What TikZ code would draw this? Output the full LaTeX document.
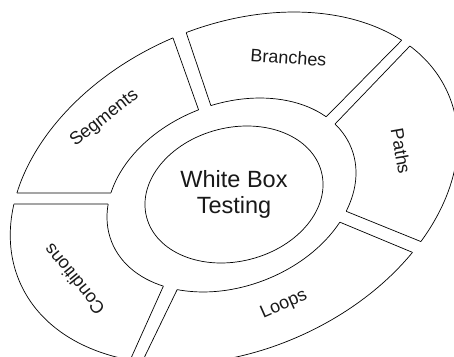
\documentclass[tikz,border=0pt]{standalone}
\usepackage{fontspec}
\setmainfont{Liberation Sans}
\usetikzlibrary{intersections,calc}
\newcommand\mygap[5]{%
  \path[name path=#1a] ($#2!-0.5!#3$) -- ($#2!1.5!#3$);
  \path[name path=#1b] ($#4!-0.5!#5$) -- ($#4!1.5!#5$);
  \path[name intersections={of=#1a and mid, by=#1ai}];
  \path[name intersections={of=#1a and outer, by=#1ao}];
  \path[name intersections={of=#1b and mid, by=#1bi}];
  \path[name intersections={of=#1b and outer, by=#1bo}];
  \fill[white] ($(#1ai)!-3pt!(#1ao)$) -- ($(#1ao)!-3pt!(#1ai)$) -- ($(#1bo)!-3pt!(#1bi)$) -- ($(#1bi)!-3pt!(#1bo)$) -- cycle;
  \draw[ringline] (#1ai) -- (#1ao);
  \draw[ringline] (#1bi) -- (#1bo);
}
\begin{document}
\begin{tikzpicture}[x=1pt,y=1pt,
  ringline/.style={draw=black, line width=0.7pt},
  seglabel/.style={font=\fontsize{18}{20}\selectfont, inner sep=0pt, text=black!90},
  centerlabel/.style={font=\fontsize{23.5}{26}\selectfont, align=center, inner sep=0pt, text=black!90}]
\useasboundingbox (0,0) rectangle (454,356);
\clip (0,0) rectangle (454,356);
\draw[ringline, name path=outer, rotate around={24:(234,168)}] (234,168) ellipse [x radius=234, y radius=162];
\draw[ringline, name path=mid, rotate around={21.1:(231.5,161)}] (231.5,161) ellipse [x radius=128.7, y radius=91.3];
% gaps: inner point first, outer point second
\mygap{ga}{(199,245)}{(173,318)}{(211,250)}{(186,324)}
\mygap{gb}{(326,239)}{(399,313)}{(335,232)}{(407,307)}
\mygap{gc}{(343,146)}{(422,114)}{(337,135)}{(414,103)}
\mygap{gd}{(163,69)}{(132,0)}{(177,66)}{(145,0)}
\mygap{ge}{(112,163)}{(16,163)}{(110,152)}{(12,152)}
\draw[ringline, rotate around={14.4:(234,161.5)}] (234,161.5) ellipse [x radius=90.3, y radius=66.8];
\node[centerlabel] (wbt) at (234,162) {White Box\\Testing};
\node[seglabel, rotate=-4] (branches) at (288.5,298.5) {Branches};
\node[seglabel, rotate=38] (segments) at (104.5,237.5) {Segments};
\node[seglabel, rotate=-80] (paths) at (401,205) {Paths};
\node[seglabel, rotate=24] (loops) at (284,51) {Loops};
\node[seglabel, rotate=129] (conditions) at (74,76.5) {Conditions};
\end{tikzpicture}
\end{document}
